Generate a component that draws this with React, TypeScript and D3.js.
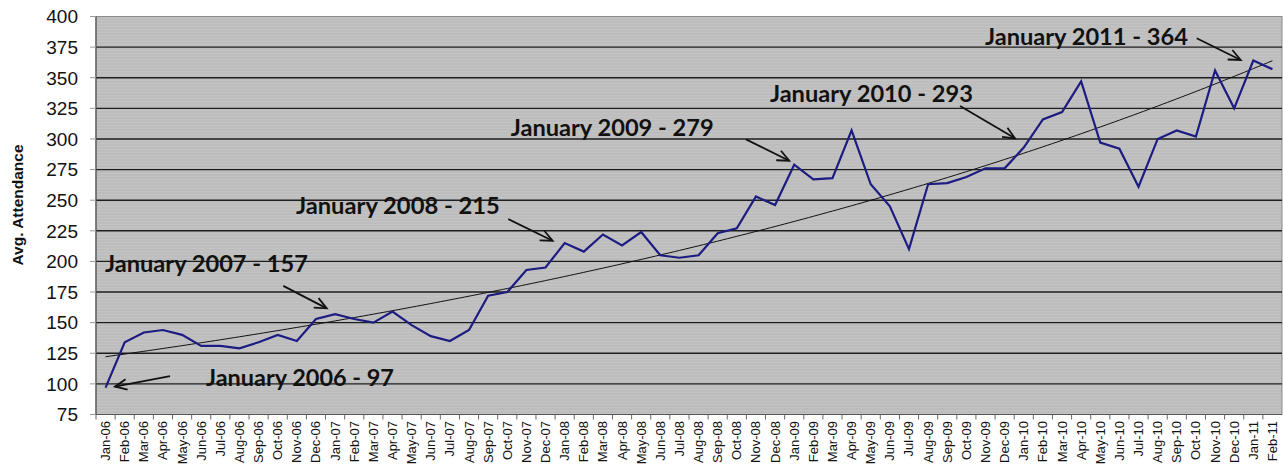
import React from 'react';
import * as d3 from 'd3';

const months = [
  'Jan-06','Feb-06','Mar-06','Apr-06','May-06','Jun-06','Jul-06','Aug-06','Sep-06','Oct-06','Nov-06','Dec-06',
  'Jan-07','Feb-07','Mar-07','Apr-07','May-07','Jun-07','Jul-07','Aug-07','Sep-07','Oct-07','Nov-07','Dec-07',
  'Jan-08','Feb-08','Mar-08','Apr-08','May-08','Jun-08','Jul-08','Aug-08','Sep-08','Oct-08','Nov-08','Dec-08',
  'Jan-09','Feb-09','Mar-09','Apr-09','May-09','Jun-09','Jul-09','Aug-09','Sep-09','Oct-09','Nov-09','Dec-09',
  'Jan-10','Feb-10','Mar-10','Apr-10','May-10','Jun-10','Jul-10','Aug-10','Sep-10','Oct-10','Nov-10','Dec-10',
  'Jan-11','Feb-11',
];

const attendance = [
  97, 134, 142, 144, 140, 131, 131, 129, 134, 140, 135, 153,
  157, 153, 150, 159, 148, 139, 135, 144, 172, 175, 193, 195,
  215, 208, 222, 213, 224, 205, 203, 205, 223, 227, 253, 246,
  279, 267, 268, 307, 263, 245, 210, 263, 264, 269, 276, 276,
  293, 316, 322, 347, 297, 292, 261, 300, 307, 302, 356, 325,
  364, 357,
];

const yTicks = [75, 100, 125, 150, 175, 200, 225, 250, 275, 300, 325, 350, 375, 400];
const yTitle = 'Avg. Attendance';

// Annotations (in data space: category index, value)
const noteLabels = [
  'January 2006 - 97', 'January 2007 - 157', 'January 2008 - 215',
  'January 2009 - 279', 'January 2010 - 293', 'January 2011 - 364',
];
const noteTextIdx = [5.25, -0.03, 9.95, 21.18, 34.73, 45.97];
const noteTextVal = [98.3, 191.1, 238.7, 302.7, 330.4, 376.7];
const noteTextWidth = [188, 203, 204, 203, 203, 203];
const arrowTailIdx = [3.37, 9.29, 21.05, 33.48, 44.67, 57.04];
const arrowTailVal = [106.4, 180.0, 234.6, 299.7, 326.9, 382.2];
const arrowTipIdx = [0.49, 11.56, 23.37, 35.74, 47.54, 59.34];
const arrowTipVal = [97.7, 161.7, 216.9, 282.2, 300.5, 364.5];

const W = 1283;
const H = 469;
const L = 96, R = 1282, T = 16.5, B = 414.5;

export default function App() {
  const x = d3.scaleBand<string>().domain(months).range([L, R]).paddingInner(0).paddingOuter(0);
  const bw = x.bandwidth();
  const xi = d3.scaleLinear().domain([-0.5, months.length - 0.5]).range([L, R]);
  const y = d3.scaleLinear().domain([75, 400]).range([B, T]);

  const pts: [number, number][] = attendance.map((v, i) => [x(months[i])! + bw / 2, y(v)]);
  const line = d3.line<[number, number]>().x(d => d[0]).y(d => d[1]);

  // exponential trendline fit (least squares on ln y)
  const n = attendance.length;
  const idx = d3.range(n);
  const ly = attendance.map(v => Math.log(v));
  const mx = d3.mean(idx)!;
  const my = d3.mean(ly)!;
  let sxy = 0, sxx = 0;
  idx.forEach(i => { sxy += (i - mx) * (ly[i] - my); sxx += (i - mx) * (i - mx); });
  const b = sxy / sxx;
  const a = my - b * mx;
  const trendPts: [number, number][] = d3.range(0, n - 1 + 0.001, 0.25).map(t => [xi(t), y(Math.exp(a + b * t))]);

  const arrowHead = (x1: number, y1: number, x2: number, y2: number) => {
    const ang = Math.atan2(y2 - y1, x2 - x1);
    const len = 13;
    const spread = 0.42;
    const p1 = [x2 - len * Math.cos(ang - spread), y2 - len * Math.sin(ang - spread)];
    const p2 = [x2 - len * Math.cos(ang + spread), y2 - len * Math.sin(ang + spread)];
    return `M${p1[0]},${p1[1]}L${x2},${y2}L${p2[0]},${p2[1]}`;
  };

  return (
    <svg width={W} height={H} style={{ position: 'absolute', left: 0, top: 0, display: 'block', background: '#fff' }}
      fontFamily="'Liberation Sans', Arial, sans-serif">
      <defs>
        <pattern id="stripes" x="0" y={T} width="8" height="3" patternUnits="userSpaceOnUse">
          <rect x="0" y="0" width="8" height="3" fill="#c3c3c3" />
          <rect x="0" y="2" width="8" height="1" fill="#b7b7b7" />
        </pattern>
        <clipPath id="plotclip">
          <rect x={L} y={T} width={R - L} height={B - T} />
        </clipPath>
      </defs>

      {/* plot area */}
      <rect x={L} y={T} width={R - L} height={B - T} fill="url(#stripes)" stroke="#8a8a8a" strokeWidth={1} />

      {/* gridlines */}
      {yTicks.filter(t => t > 75 && t < 400).map(t => (
        <line key={t} x1={L} x2={R} y1={y(t)} y2={y(t)} stroke="#1e1e1e" strokeWidth={1.4} />
      ))}

      {/* axes */}
      <line x1={L} x2={L} y1={T} y2={B} stroke="#555" strokeWidth={1.2} />
      <line x1={L} x2={R} y1={B} y2={B} stroke="#555" strokeWidth={1.2} />

      {/* y ticks */}
      {yTicks.map(t => (
        <g key={t}>
          <line x1={L - 6} x2={L} y1={y(t)} y2={y(t)} stroke="#999" strokeWidth={1} />
          <text x={78} y={y(t)} dy="0.36em" textAnchor="end" fontSize={19} fill="#111">{t}</text>
        </g>
      ))}

      {/* x ticks */}
      {months.map(m => (
        <line key={'t' + m} x1={x(m)!} x2={x(m)!} y1={B} y2={B + 5} stroke="#666" strokeWidth={1} />
      ))}
      {months.map(m => {
        const cx = x(m)! + bw / 2 + 4.5;
        const ty = 421;
        return (
          <text key={'l' + m} x={cx} y={ty} transform={`rotate(-90,${cx},${ty})`} textAnchor="end" fontSize={13} fill="#111">{m}</text>
        );
      })}

      {/* y title */}
      <text x={23} y={205} transform="rotate(-90,23,205)" textAnchor="middle" fontSize={15.5} fontWeight="bold" fill="#111">{yTitle}</text>

      <g clipPath="url(#plotclip)">
        {/* trendline */}
        <path d={line(trendPts)!} fill="none" stroke="#111" strokeWidth={1} />
        {/* data */}
        <path d={line(pts)!} fill="none" stroke="#1c1c82" strokeWidth={2.2} strokeLinejoin="miter" />
      </g>

      {/* annotations */}
      {noteLabels.map((lab, i) => {
        const x1 = xi(arrowTailIdx[i]), y1 = y(arrowTailVal[i]);
        const x2 = xi(arrowTipIdx[i]), y2 = y(arrowTipVal[i]);
        return (
          <g key={lab}>
            <text x={xi(noteTextIdx[i])} y={y(noteTextVal[i])} fontFamily="Lato, 'Open Sans', sans-serif" fontWeight="bold"
              fontSize={22} fill="#111" textLength={noteTextWidth[i]} lengthAdjust="spacingAndGlyphs">{lab}</text>
            <line x1={x1} y1={y1} x2={x2} y2={y2} stroke="#111" strokeWidth={1.8} />
            <path d={arrowHead(x1, y1, x2, y2)} fill="none" stroke="#111" strokeWidth={1.8} />
          </g>
        );
      })}
    </svg>
  );
}
